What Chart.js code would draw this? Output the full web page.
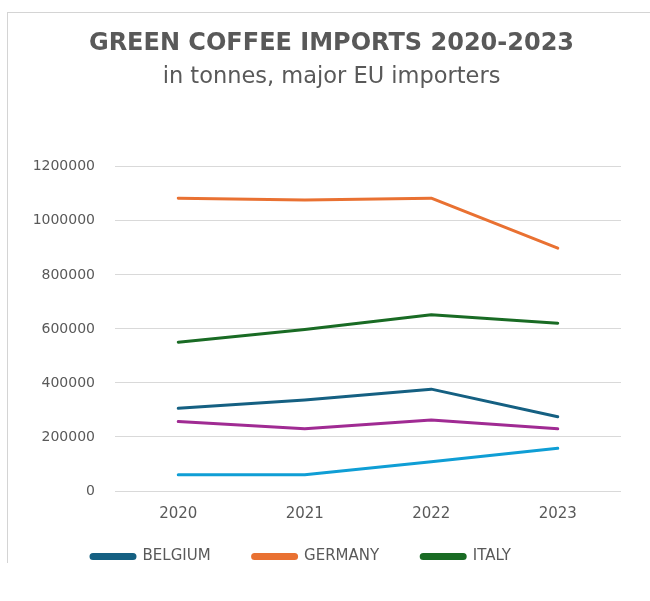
<!DOCTYPE html>
<html>
<head>
<meta charset="utf-8">
<script src="https://cdn.jsdelivr.net/npm/chart.js@4.4.1/dist/chart.umd.min.js"></script>
<style>
    body { margin: 0; background: #ffffff; }
    #chartWrap { position: relative; width: 650px; height: 563px; overflow: hidden; }
    #chartFrame {
        position: absolute; left: 7px; top: 12px; width: 643px; height: 551px;
        border-left: 1px solid #d4d4d4; border-top: 1px solid #d4d4d4;
        box-sizing: border-box; pointer-events: none;
    }
    #importsCanvas { position: absolute; left: 0; top: 0; }
</style>
</head>
<body>
<div id="chartWrap">
    <canvas id="importsCanvas" width="650" height="604"></canvas>
    <div id="chartFrame"></div>
</div>
<script>
// green coffee imports, tonnes
var years = ['2020', '2021', '2022', '2023'];
var belgium = [306000, 337000, 377000, 275000];
var germany = [1084000, 1077000, 1084000, 899000];
var italy = [551000, 598000, 652000, 621000];
var series4 = [257000, 230000, 263000, 230000];
var series5 = [60000, 60000, 108000, 158000];

var yMin = 0;
var yMax = 1200000;
var yStep = 200000;

var textGrey = '#595959';
var fontFamily = '"DejaVu Sans", sans-serif';

// where the legend row and the headings end up
var legendLeft = 49;
var legendTop = 507;
var titleShift = 5;

function makeLine(label, values, color) {
    return {
        label: label,
        data: values,
        borderColor: color,
        backgroundColor: color,
        borderWidth: 3,
        borderCapStyle: 'round',
        borderJoinStyle: 'round',
        pointRadius: 0,
        tension: 0,
        fill: false
    };
}

// moves the legend box (and nudges the headings) once the layout is done
var placeBoxes = {
    id: 'placeBoxes',
    afterLayout: function (chart) {
        var legend = chart.legend;
        var w = legend.width;
        var h = legend.height;
        legend.left = legendLeft;
        legend.right = legendLeft + w;
        legend.top = legendTop;
        legend.bottom = legendTop + h;

        chart.boxes.forEach(function (box) {
            if (box !== legend && box.options && box.options.text) {
                box.left += titleShift;
                box.right += titleShift;
            }
        });
    }
};

document.addEventListener('DOMContentLoaded', function () {
    var ctx = document.getElementById('importsCanvas').getContext('2d');

    var chart = new Chart(ctx, {
        type: 'line',
        data: {
            labels: years,
            datasets: [
                makeLine('BELGIUM', belgium, '#156082'),
                makeLine('GERMANY', germany, '#E97132'),
                makeLine('ITALY', italy, '#196B24'),
                makeLine('SERIES 4', series4, '#A02B93'),
                makeLine('SERIES 5', series5, '#0F9ED5')
            ]
        },
        options: {
            responsive: false,
            animation: false,
            layout: {
                padding: { left: 32, right: 29, top: 0, bottom: 0 }
            },
            plugins: {
                title: {
                    display: true,
                    text: 'GREEN COFFEE IMPORTS 2020-2023',
                    color: textGrey,
                    font: { family: fontFamily, size: 24, weight: 'bold', lineHeight: 1.2 },
                    padding: { top: 29, bottom: 0 }
                },
                subtitle: {
                    display: true,
                    text: 'in tonnes, major EU importers',
                    color: textGrey,
                    font: { family: fontFamily, size: 22.5, weight: 'normal', lineHeight: 1.2 },
                    padding: { top: 6, bottom: 76 }
                },
                legend: {
                    position: 'bottom',
                    align: 'start',
                    labels: {
                        color: textGrey,
                        font: { family: fontFamily, size: 15 },
                        boxWidth: 44,
                        boxHeight: 4,
                        useBorderRadius: true,
                        borderRadius: 2,
                        padding: 42,
                        // only the first row fits in the frame
                        filter: function (item) {
                            return item.datasetIndex < 3;
                        }
                    }
                },
                tooltip: { enabled: false }
            },
            scales: {
                x: {
                    offset: true,
                    grid: { display: false, drawTicks: false },
                    border: { display: false },
                    ticks: {
                        color: textGrey,
                        padding: 14,
                        font: { family: fontFamily, size: 15 }
                    }
                },
                y: {
                    min: yMin,
                    max: yMax,
                    grid: { color: '#d9d9d9', lineWidth: 1, drawTicks: false },
                    border: { display: false },
                    ticks: {
                        stepSize: yStep,
                        color: textGrey,
                        padding: 20,
                        font: { family: fontFamily, size: 14 },
                        callback: function (value) {
                            return String(value);
                        }
                    },
                    afterFit: function (scale) {
                        scale.width = 115 - 32;
                    }
                }
            }
        },
        plugins: [placeBoxes]
    });
});
</script>
</body>
</html>
